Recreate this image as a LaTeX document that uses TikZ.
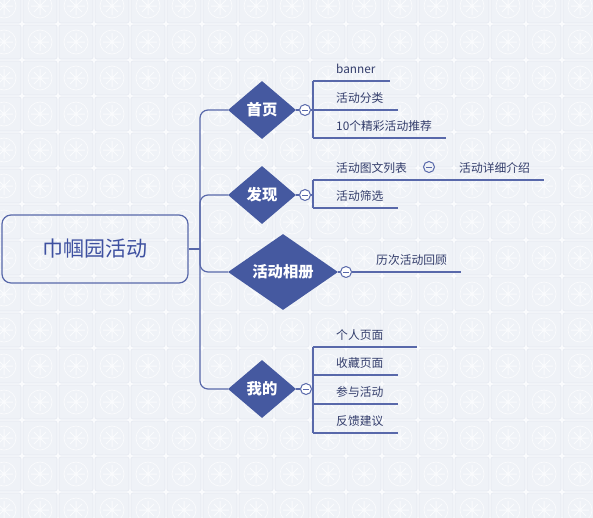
\documentclass[tikz,border=0pt]{standalone}
\usepackage{fontspec}
\setmainfont{Noto Sans CJK SC}
\usetikzlibrary{shapes.geometric, positioning, calc}
\definecolor{myblue}{RGB}{69,89,160}
\definecolor{mylink}{RGB}{88,104,170}
\definecolor{mytext}{RGB}{52,62,108}
\definecolor{myroot}{RGB}{62,80,160}
\definecolor{tilebg}{RGB}{239,242,247}
\definecolor{tileln}{RGB}{228,233,241}
\definecolor{pagebg}{RGB}{250,251,253}
\tikzset{
  rootbox/.style={rectangle, draw=mylink, rounded corners=9pt,
    minimum width=186pt, minimum height=68pt, line width=1.2pt,
    font=\fontsize{21}{24}\selectfont, text=myroot},
  branch/.style={diamond, fill=myblue, inner sep=0pt, minimum width=68pt,
    minimum height=58pt, text=white, font=\bfseries\fontsize{15.3}{18}\selectfont},
  widebranch/.style={branch, minimum width=110pt, minimum height=67pt},
  fold/.style={circle, draw=mylink, fill=white, minimum size=11pt,
    inner sep=0pt, line width=1pt,
    path picture={\draw[mylink, line width=1pt]
      ([xshift=2.8pt]path picture bounding box.west) --
      ([xshift=-2.8pt]path picture bounding box.east);}},
  leaf/.style={anchor=base west, inner sep=0pt, text=mytext,
    font=\fontsize{11.8}{14}\selectfont},
  link/.style={line width=1.2pt, color=mylink},
  tile/.style={fill=tilebg, draw=tileln, line width=0.6pt},
  motif/.style={color=white!70!tilebg}
}
\begin{document}
\begin{tikzpicture}[x=1pt, y=-1pt]
  \useasboundingbox (0,0) rectangle (593,517);
  % tiled background
  \fill[pagebg] (0,0) rectangle (593,517);
  \foreach \i in {0,...,16}{
    \foreach \j in {0,...,14}{
      \begin{scope}[shift={(-14+36*\i,-12+36*\j)}]
        \draw[tile, rounded corners=2pt] (1,1) rectangle (35,35);
        \draw[motif, line width=0.7pt] (18,18) circle (12pt);
        \draw[motif, line width=1pt] (18,9) -- (18,27) (9,18) -- (27,18)
          (12,12) -- (24,24) (12,24) -- (24,12);
      \end{scope}
    }
  }
  % root and main branches
  \node[rootbox] (root) at (95,249) {巾帼园活动};
  \node[branch] (shouye) at (262,110) {首页};
  \node[branch] (faxian) at (262,195) {发现};
  \node[widebranch] (xiangce) at (283,272) {活动相册};
  \node[branch] (wode) at (262,389) {我的};
  \coordinate (trunk) at (200,249);
  \draw[link] (root) -- (trunk);
  \foreach \b in {shouye,faxian,xiangce,wode}
    \draw[link, rounded corners=8pt] (trunk) |- (\b.west);
  % collapse buttons
  \node[fold] (f-shouye) at (305,110) {};
  \node[fold] (f-faxian) at (305,195) {};
  \node[fold] (f-xiangce) at (346,272) {};
  \node[fold] (f-wode) at (306,389) {};
  \node[fold, fill=none] (f-tuwen) at (429,167) {};
  \foreach \b in {shouye,faxian,xiangce,wode}
    \draw[link] (\b) -- (f-\b);
  % 首页
  \coordinate (c-banner) at (313,81);
  \coordinate (c-fenlei) at (313,110);
  \coordinate (c-tuijian) at (313,138);
  \node[leaf] (banner) at (336,73.5) {banner};
  \node[leaf] (fenlei) at (336,102.5) {活动分类};
  \node[leaf] (tuijian) at (336,130.5) {10个精彩活动推荐};
  \draw[link] (c-banner) -- (c-tuijian);
  \draw[link] (f-shouye) -- (c-fenlei);
  \foreach \n in {banner,fenlei,tuijian}
    \draw[link] (c-\n) -- ($(\n.east |- c-\n)+(14,0)$);
  % 发现
  \coordinate (c-tuwen) at (313,180);
  \coordinate (c-shaixuan) at (313,208);
  \node[leaf] (tuwen) at (336,172.5) {活动图文列表};
  \node[leaf] (xiangxi) at (459,172.5) {活动详细介绍};
  \node[leaf] (shaixuan) at (336,200.5) {活动筛选};
  \draw[link] (c-tuwen) -- (c-shaixuan);
  \draw[link] (f-faxian) -- (f-faxian -| c-tuwen);
  \draw[link] (c-tuwen) -- ($(xiangxi.east |- c-tuwen)+(14,0)$);
  \draw[link] (c-shaixuan) -- ($(shaixuan.east |- c-shaixuan)+(14,0)$);
  % 活动相册
  \node[leaf] (huigu) at (376,264.5) {历次活动回顾};
  \draw[link] (f-xiangce) -- ($(huigu.east |- f-xiangce)+(14,0)$);
  % 我的
  \coordinate (c-geren) at (313,347);
  \coordinate (c-shoucang) at (313,375);
  \coordinate (c-canyu) at (313,404);
  \coordinate (c-fankui) at (313,433);
  \node[leaf] (geren) at (336,339.5) {个人页面};
  \node[leaf] (shoucang) at (336,367.5) {收藏页面};
  \node[leaf] (canyu) at (336,396.5) {参与活动};
  \node[leaf] (fankui) at (336,425.5) {反馈建议};
  \draw[link] (c-geren) -- (c-fankui);
  \draw[link] (f-wode) -- (f-wode -| c-geren);
  \draw[link] (c-geren) -- ($(geren.east |- c-geren)+(33,0)$);
  \foreach \n in {shoucang,canyu,fankui}
    \draw[link] (c-\n) -- ($(\n.east |- c-\n)+(14,0)$);
\end{tikzpicture}
\end{document}
